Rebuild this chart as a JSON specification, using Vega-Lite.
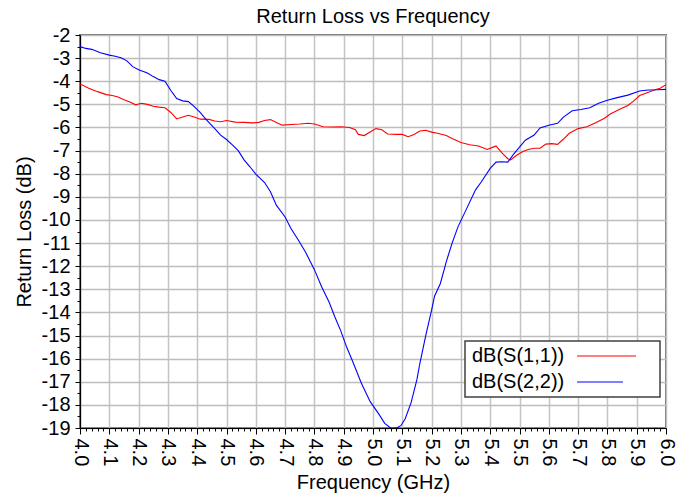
{
  "$schema": "https://vega.github.io/schema/vega-lite/v6.json",
  "width": 586,
  "height": 393,
  "autosize": {"type": "none"},
  "padding": {"left": 80, "top": 35, "right": 27, "bottom": 72},
  "background": "white",
  "config": {
    "font": "Liberation Sans",
    "view": {"stroke": "#707070", "strokeWidth": 2}
  },
  "title": {
    "text": "Return Loss vs Frequency",
    "fontSize": 20,
    "fontWeight": "normal",
    "color": "black",
    "frame": "group",
    "offset": -2,
    "anchor": "middle"
  },
  "data": {
    "values": [
      {"f": 4.00, "v": -4.12, "s": "dB(S(1,1))"},
      {"f": 4.03, "v": -4.30, "s": "dB(S(1,1))"},
      {"f": 4.06, "v": -4.45, "s": "dB(S(1,1))"},
      {"f": 4.09, "v": -4.58, "s": "dB(S(1,1))"},
      {"f": 4.11, "v": -4.62, "s": "dB(S(1,1))"},
      {"f": 4.13, "v": -4.68, "s": "dB(S(1,1))"},
      {"f": 4.15, "v": -4.80, "s": "dB(S(1,1))"},
      {"f": 4.17, "v": -4.90, "s": "dB(S(1,1))"},
      {"f": 4.19, "v": -5.02, "s": "dB(S(1,1))"},
      {"f": 4.21, "v": -4.95, "s": "dB(S(1,1))"},
      {"f": 4.23, "v": -5.00, "s": "dB(S(1,1))"},
      {"f": 4.25, "v": -5.08, "s": "dB(S(1,1))"},
      {"f": 4.27, "v": -5.12, "s": "dB(S(1,1))"},
      {"f": 4.29, "v": -5.15, "s": "dB(S(1,1))"},
      {"f": 4.31, "v": -5.35, "s": "dB(S(1,1))"},
      {"f": 4.33, "v": -5.63, "s": "dB(S(1,1))"},
      {"f": 4.35, "v": -5.55, "s": "dB(S(1,1))"},
      {"f": 4.37, "v": -5.47, "s": "dB(S(1,1))"},
      {"f": 4.39, "v": -5.55, "s": "dB(S(1,1))"},
      {"f": 4.41, "v": -5.64, "s": "dB(S(1,1))"},
      {"f": 4.44, "v": -5.65, "s": "dB(S(1,1))"},
      {"f": 4.46, "v": -5.72, "s": "dB(S(1,1))"},
      {"f": 4.48, "v": -5.75, "s": "dB(S(1,1))"},
      {"f": 4.50, "v": -5.70, "s": "dB(S(1,1))"},
      {"f": 4.53, "v": -5.77, "s": "dB(S(1,1))"},
      {"f": 4.56, "v": -5.78, "s": "dB(S(1,1))"},
      {"f": 4.59, "v": -5.80, "s": "dB(S(1,1))"},
      {"f": 4.61, "v": -5.78, "s": "dB(S(1,1))"},
      {"f": 4.63, "v": -5.70, "s": "dB(S(1,1))"},
      {"f": 4.65, "v": -5.66, "s": "dB(S(1,1))"},
      {"f": 4.67, "v": -5.78, "s": "dB(S(1,1))"},
      {"f": 4.69, "v": -5.90, "s": "dB(S(1,1))"},
      {"f": 4.72, "v": -5.87, "s": "dB(S(1,1))"},
      {"f": 4.75, "v": -5.85, "s": "dB(S(1,1))"},
      {"f": 4.78, "v": -5.82, "s": "dB(S(1,1))"},
      {"f": 4.80, "v": -5.85, "s": "dB(S(1,1))"},
      {"f": 4.83, "v": -5.97, "s": "dB(S(1,1))"},
      {"f": 4.86, "v": -5.98, "s": "dB(S(1,1))"},
      {"f": 4.89, "v": -5.97, "s": "dB(S(1,1))"},
      {"f": 4.92, "v": -6.00, "s": "dB(S(1,1))"},
      {"f": 4.94, "v": -6.10, "s": "dB(S(1,1))"},
      {"f": 4.95, "v": -6.30, "s": "dB(S(1,1))"},
      {"f": 4.97, "v": -6.35, "s": "dB(S(1,1))"},
      {"f": 4.99, "v": -6.20, "s": "dB(S(1,1))"},
      {"f": 5.01, "v": -6.05, "s": "dB(S(1,1))"},
      {"f": 5.03, "v": -6.10, "s": "dB(S(1,1))"},
      {"f": 5.05, "v": -6.28, "s": "dB(S(1,1))"},
      {"f": 5.08, "v": -6.30, "s": "dB(S(1,1))"},
      {"f": 5.10, "v": -6.30, "s": "dB(S(1,1))"},
      {"f": 5.12, "v": -6.40, "s": "dB(S(1,1))"},
      {"f": 5.14, "v": -6.30, "s": "dB(S(1,1))"},
      {"f": 5.16, "v": -6.15, "s": "dB(S(1,1))"},
      {"f": 5.18, "v": -6.12, "s": "dB(S(1,1))"},
      {"f": 5.20, "v": -6.20, "s": "dB(S(1,1))"},
      {"f": 5.22, "v": -6.25, "s": "dB(S(1,1))"},
      {"f": 5.25, "v": -6.35, "s": "dB(S(1,1))"},
      {"f": 5.27, "v": -6.48, "s": "dB(S(1,1))"},
      {"f": 5.30, "v": -6.65, "s": "dB(S(1,1))"},
      {"f": 5.33, "v": -6.75, "s": "dB(S(1,1))"},
      {"f": 5.36, "v": -6.80, "s": "dB(S(1,1))"},
      {"f": 5.39, "v": -6.95, "s": "dB(S(1,1))"},
      {"f": 5.41, "v": -6.85, "s": "dB(S(1,1))"},
      {"f": 5.42, "v": -6.80, "s": "dB(S(1,1))"},
      {"f": 5.44, "v": -7.10, "s": "dB(S(1,1))"},
      {"f": 5.46, "v": -7.35, "s": "dB(S(1,1))"},
      {"f": 5.47, "v": -7.40, "s": "dB(S(1,1))"},
      {"f": 5.49, "v": -7.20, "s": "dB(S(1,1))"},
      {"f": 5.51, "v": -7.05, "s": "dB(S(1,1))"},
      {"f": 5.53, "v": -6.95, "s": "dB(S(1,1))"},
      {"f": 5.55, "v": -6.90, "s": "dB(S(1,1))"},
      {"f": 5.57, "v": -6.90, "s": "dB(S(1,1))"},
      {"f": 5.59, "v": -6.72, "s": "dB(S(1,1))"},
      {"f": 5.61, "v": -6.70, "s": "dB(S(1,1))"},
      {"f": 5.63, "v": -6.73, "s": "dB(S(1,1))"},
      {"f": 5.65, "v": -6.50, "s": "dB(S(1,1))"},
      {"f": 5.67, "v": -6.25, "s": "dB(S(1,1))"},
      {"f": 5.70, "v": -6.05, "s": "dB(S(1,1))"},
      {"f": 5.73, "v": -5.97, "s": "dB(S(1,1))"},
      {"f": 5.76, "v": -5.80, "s": "dB(S(1,1))"},
      {"f": 5.79, "v": -5.60, "s": "dB(S(1,1))"},
      {"f": 5.81, "v": -5.42, "s": "dB(S(1,1))"},
      {"f": 5.84, "v": -5.22, "s": "dB(S(1,1))"},
      {"f": 5.87, "v": -5.05, "s": "dB(S(1,1))"},
      {"f": 5.89, "v": -4.85, "s": "dB(S(1,1))"},
      {"f": 5.91, "v": -4.62, "s": "dB(S(1,1))"},
      {"f": 5.94, "v": -4.48, "s": "dB(S(1,1))"},
      {"f": 5.96, "v": -4.38, "s": "dB(S(1,1))"},
      {"f": 5.98, "v": -4.30, "s": "dB(S(1,1))"},
      {"f": 6.00, "v": -4.15, "s": "dB(S(1,1))"},
      {"f": 4.00, "v": -2.50, "s": "dB(S(2,2))"},
      {"f": 4.02, "v": -2.58, "s": "dB(S(2,2))"},
      {"f": 4.04, "v": -2.62, "s": "dB(S(2,2))"},
      {"f": 4.07, "v": -2.77, "s": "dB(S(2,2))"},
      {"f": 4.10, "v": -2.87, "s": "dB(S(2,2))"},
      {"f": 4.12, "v": -2.92, "s": "dB(S(2,2))"},
      {"f": 4.14, "v": -2.98, "s": "dB(S(2,2))"},
      {"f": 4.16, "v": -3.12, "s": "dB(S(2,2))"},
      {"f": 4.18, "v": -3.37, "s": "dB(S(2,2))"},
      {"f": 4.20, "v": -3.50, "s": "dB(S(2,2))"},
      {"f": 4.23, "v": -3.64, "s": "dB(S(2,2))"},
      {"f": 4.25, "v": -3.80, "s": "dB(S(2,2))"},
      {"f": 4.27, "v": -3.93, "s": "dB(S(2,2))"},
      {"f": 4.29, "v": -4.00, "s": "dB(S(2,2))"},
      {"f": 4.31, "v": -4.40, "s": "dB(S(2,2))"},
      {"f": 4.33, "v": -4.75, "s": "dB(S(2,2))"},
      {"f": 4.35, "v": -4.85, "s": "dB(S(2,2))"},
      {"f": 4.37, "v": -4.88, "s": "dB(S(2,2))"},
      {"f": 4.39, "v": -5.10, "s": "dB(S(2,2))"},
      {"f": 4.41, "v": -5.35, "s": "dB(S(2,2))"},
      {"f": 4.43, "v": -5.65, "s": "dB(S(2,2))"},
      {"f": 4.46, "v": -6.05, "s": "dB(S(2,2))"},
      {"f": 4.48, "v": -6.33, "s": "dB(S(2,2))"},
      {"f": 4.50, "v": -6.52, "s": "dB(S(2,2))"},
      {"f": 4.52, "v": -6.75, "s": "dB(S(2,2))"},
      {"f": 4.54, "v": -7.00, "s": "dB(S(2,2))"},
      {"f": 4.56, "v": -7.40, "s": "dB(S(2,2))"},
      {"f": 4.58, "v": -7.70, "s": "dB(S(2,2))"},
      {"f": 4.60, "v": -8.02, "s": "dB(S(2,2))"},
      {"f": 4.63, "v": -8.38, "s": "dB(S(2,2))"},
      {"f": 4.65, "v": -8.78, "s": "dB(S(2,2))"},
      {"f": 4.67, "v": -9.36, "s": "dB(S(2,2))"},
      {"f": 4.70, "v": -9.87, "s": "dB(S(2,2))"},
      {"f": 4.72, "v": -10.37, "s": "dB(S(2,2))"},
      {"f": 4.745, "v": -10.87, "s": "dB(S(2,2))"},
      {"f": 4.77, "v": -11.40, "s": "dB(S(2,2))"},
      {"f": 4.80, "v": -12.15, "s": "dB(S(2,2))"},
      {"f": 4.825, "v": -12.90, "s": "dB(S(2,2))"},
      {"f": 4.85, "v": -13.55, "s": "dB(S(2,2))"},
      {"f": 4.87, "v": -14.20, "s": "dB(S(2,2))"},
      {"f": 4.89, "v": -14.80, "s": "dB(S(2,2))"},
      {"f": 4.91, "v": -15.50, "s": "dB(S(2,2))"},
      {"f": 4.93, "v": -16.10, "s": "dB(S(2,2))"},
      {"f": 4.96, "v": -17.05, "s": "dB(S(2,2))"},
      {"f": 4.99, "v": -17.85, "s": "dB(S(2,2))"},
      {"f": 5.02, "v": -18.40, "s": "dB(S(2,2))"},
      {"f": 5.04, "v": -18.80, "s": "dB(S(2,2))"},
      {"f": 5.06, "v": -19.00, "s": "dB(S(2,2))"},
      {"f": 5.08, "v": -19.00, "s": "dB(S(2,2))"},
      {"f": 5.095, "v": -18.90, "s": "dB(S(2,2))"},
      {"f": 5.11, "v": -18.60, "s": "dB(S(2,2))"},
      {"f": 5.13, "v": -17.90, "s": "dB(S(2,2))"},
      {"f": 5.15, "v": -16.90, "s": "dB(S(2,2))"},
      {"f": 5.16, "v": -16.20, "s": "dB(S(2,2))"},
      {"f": 5.18, "v": -15.00, "s": "dB(S(2,2))"},
      {"f": 5.20, "v": -13.90, "s": "dB(S(2,2))"},
      {"f": 5.21, "v": -13.30, "s": "dB(S(2,2))"},
      {"f": 5.23, "v": -12.75, "s": "dB(S(2,2))"},
      {"f": 5.25, "v": -11.81, "s": "dB(S(2,2))"},
      {"f": 5.27, "v": -11.00, "s": "dB(S(2,2))"},
      {"f": 5.29, "v": -10.30, "s": "dB(S(2,2))"},
      {"f": 5.32, "v": -9.50, "s": "dB(S(2,2))"},
      {"f": 5.35, "v": -8.70, "s": "dB(S(2,2))"},
      {"f": 5.37, "v": -8.35, "s": "dB(S(2,2))"},
      {"f": 5.40, "v": -7.77, "s": "dB(S(2,2))"},
      {"f": 5.42, "v": -7.50, "s": "dB(S(2,2))"},
      {"f": 5.44, "v": -7.48, "s": "dB(S(2,2))"},
      {"f": 5.46, "v": -7.50, "s": "dB(S(2,2))"},
      {"f": 5.48, "v": -7.15, "s": "dB(S(2,2))"},
      {"f": 5.50, "v": -6.85, "s": "dB(S(2,2))"},
      {"f": 5.52, "v": -6.55, "s": "dB(S(2,2))"},
      {"f": 5.55, "v": -6.33, "s": "dB(S(2,2))"},
      {"f": 5.57, "v": -6.02, "s": "dB(S(2,2))"},
      {"f": 5.60, "v": -5.90, "s": "dB(S(2,2))"},
      {"f": 5.63, "v": -5.82, "s": "dB(S(2,2))"},
      {"f": 5.65, "v": -5.55, "s": "dB(S(2,2))"},
      {"f": 5.68, "v": -5.28, "s": "dB(S(2,2))"},
      {"f": 5.71, "v": -5.22, "s": "dB(S(2,2))"},
      {"f": 5.74, "v": -5.15, "s": "dB(S(2,2))"},
      {"f": 5.77, "v": -4.95, "s": "dB(S(2,2))"},
      {"f": 5.80, "v": -4.82, "s": "dB(S(2,2))"},
      {"f": 5.83, "v": -4.72, "s": "dB(S(2,2))"},
      {"f": 5.87, "v": -4.60, "s": "dB(S(2,2))"},
      {"f": 5.91, "v": -4.42, "s": "dB(S(2,2))"},
      {"f": 5.94, "v": -4.38, "s": "dB(S(2,2))"},
      {"f": 5.97, "v": -4.37, "s": "dB(S(2,2))"},
      {"f": 6.00, "v": -4.35, "s": "dB(S(2,2))"}
    ]
  },
  "mark": {"type": "line", "strokeWidth": 1.1, "clip": true, "interpolate": "linear"},
  "encoding": {
    "x": {
      "field": "f",
      "type": "quantitative",
      "scale": {"domain": [4, 6], "nice": false, "zero": false},
      "axis": {
        "title": "Frequency (GHz)",
        "titleFontSize": 20,
        "titleFontWeight": "normal",
        "titleColor": "black",
        "titlePadding": 7,
        "tickCount": 100,
        "labelAngle": 90,
        "labelAlign": "left",
        "labelBaseline": "middle",
        "labelFontSize": 20,
        "labelColor": "black",
        "labelPadding": 4,
        "labelOverlap": false,
        "labelFlush": false,
        "labelExpr": "abs(datum.value*10 - round(datum.value*10)) < 0.000001 ? format(datum.value, '.1f') : ''",
        "tickColor": "black",
        "tickSize": {"condition": {"test": "abs(datum.value*10 - round(datum.value*10)) < 0.000001", "value": 6}, "value": 3},
        "domainColor": "black",
        "domainWidth": 1.2,
        "gridColor": "#c4c4c4",
        "gridWidth": 1.5,
        "gridOpacity": {"condition": {"test": "abs(datum.value*10 - round(datum.value*10)) < 0.000001", "value": 1}, "value": 0}
      }
    },
    "y": {
      "field": "v",
      "type": "quantitative",
      "scale": {"domain": [-19, -2], "nice": false, "zero": false},
      "axis": {
        "title": "Return Loss (dB)",
        "titleFontSize": 20,
        "titleFontWeight": "normal",
        "titleColor": "black",
        "titlePadding": 7,
        "tickCount": 34,
        "labelFontSize": 20,
        "labelColor": "black",
        "labelPadding": 5,
        "labelOverlap": false,
        "labelFlush": false,
        "labelExpr": "datum.value == round(datum.value) ? '' + datum.value : ''",
        "tickColor": "black",
        "tickSize": {"condition": {"test": "datum.value == round(datum.value)", "value": 5}, "value": 3},
        "domainColor": "black",
        "domainWidth": 1.2,
        "gridColor": "#bdbdbd",
        "gridWidth": 1.3,
        "gridOpacity": {"condition": {"test": "datum.value == round(datum.value)", "value": 1}, "value": 0}
      }
    },
    "color": {
      "field": "s",
      "type": "nominal",
      "scale": {"domain": ["dB(S(1,1))", "dB(S(2,2))"], "range": ["#ff0000", "#0000ff"]},
      "legend": {
        "title": null,
        "orient": "none",
        "legendX": 385,
        "legendY": 306,
        "direction": "vertical",
        "symbolType": "stroke",
        "symbolSize": 100,
        "symbolStrokeWidth": 1.2,
        "labelFontSize": 20,
        "labelColor": "black",
        "rowPadding": 6,
        "padding": 5,
        "strokeColor": "#404040",
        "fillColor": "white",
        "encode": {
          "legend": {
            "update": {
              "strokeWidth": {"value": 1.5}
            }
          },
          "symbols": {
            "update": {
              "x": {"signal": "datum.value == 'dB(S(2,2))' ? 130 : 136.5"},
              "shape": {"signal": "datum.value == 'dB(S(2,2))' ? 'M-4.6,0H4.6M10.4,0' : 'M-5.9,0H5.9M9.1,0'"},
              "size": {"value": 100}
            }
          },
          "labels": {
            "update": {
              "x": {"value": 2},
              "align": {"value": "left"}
            }
          }
        }
      }
    }
  }
}
